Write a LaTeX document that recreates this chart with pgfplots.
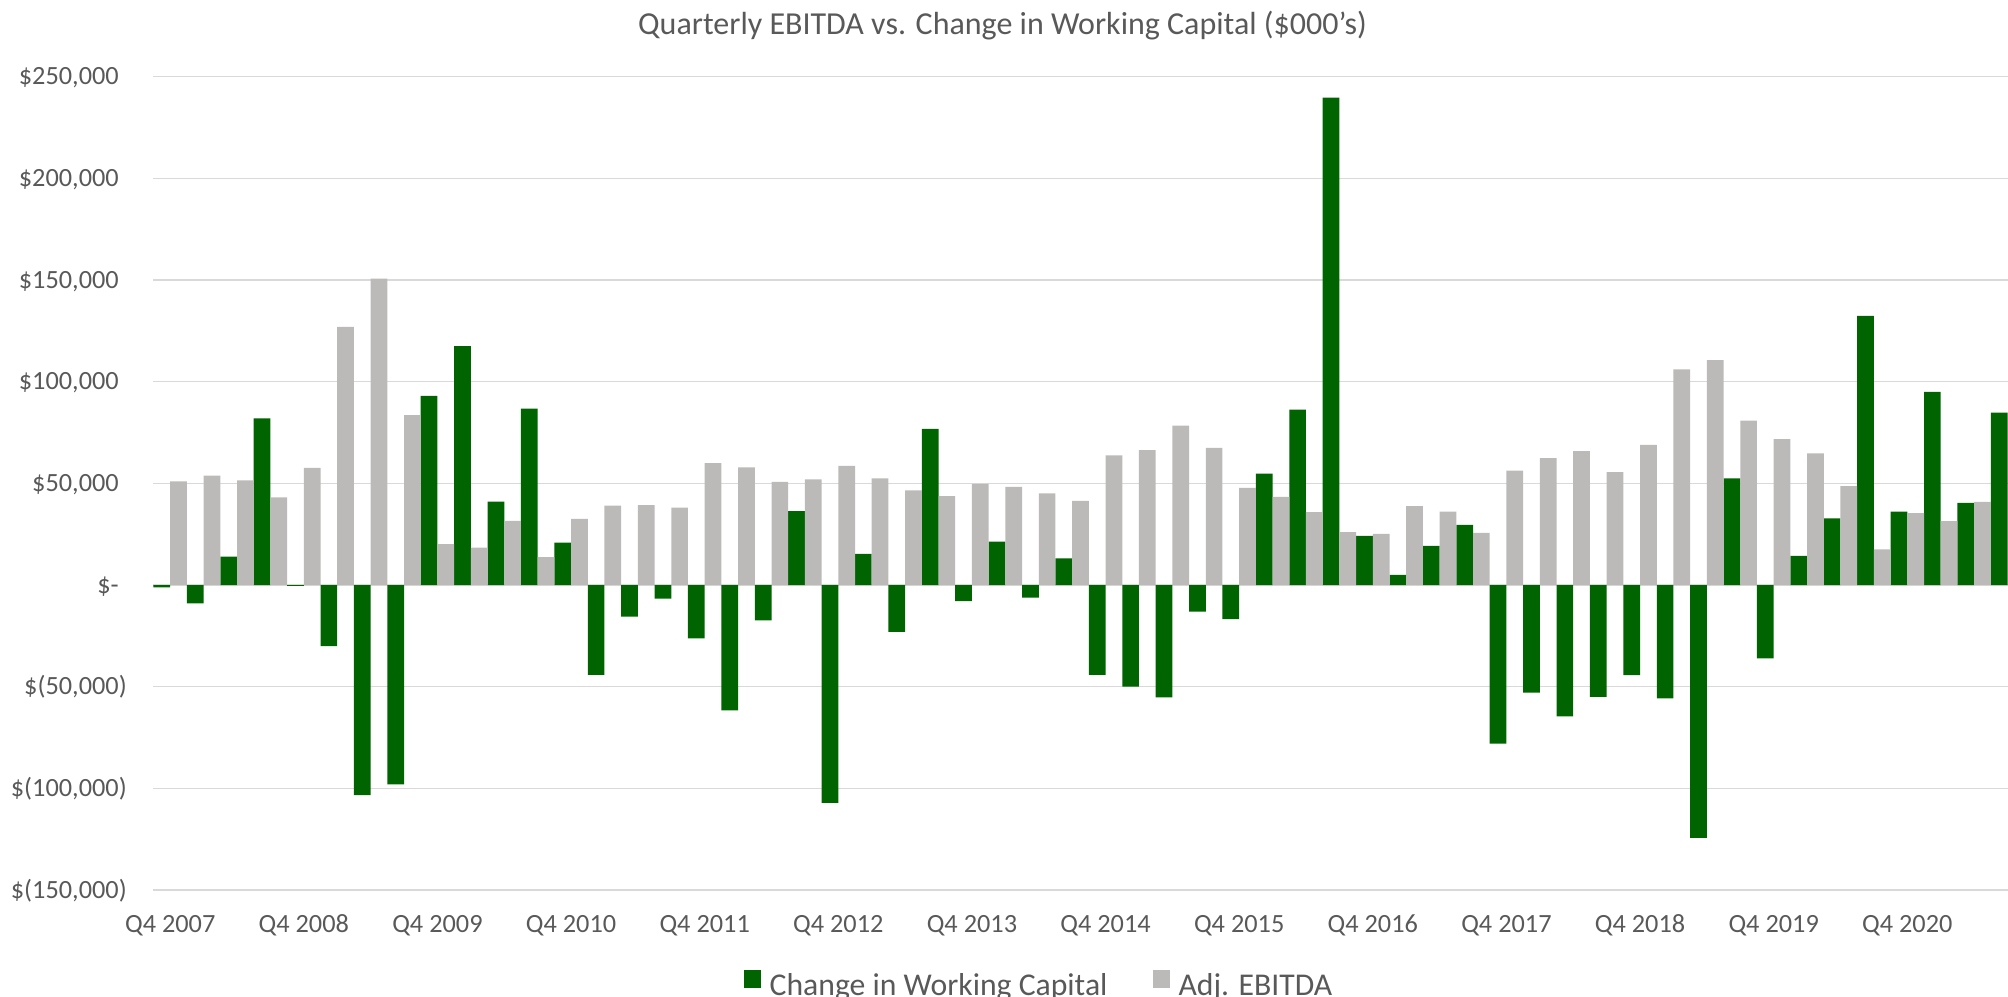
\documentclass[border=0pt]{standalone}
\usepackage{fontspec}
\setmainfont{Carlito}
\usepackage{pgfplots}
\pgfplotsset{compat=1.18}
\usepackage{pgfplotstable}

\definecolor{wcgreen}{RGB}{0,100,0}
\definecolor{ebgray}{RGB}{187,186,184}
\definecolor{txtgray}{RGB}{89,89,89}
\definecolor{gridgray}{RGB}{217,217,217}

% quarters from Q4 2007 (q=0) to Q3 2021 (q=55), values in $000's
\pgfplotstableread{
q   wc       ebitda
0   -1200    51000
1   -9000    53800
2   14000    51500
3   82000    43100
4   -400     57600
5   -30000   127000
6   -103300  150700
7   -98000   83500
8   93000    20100
9   117500   18400
10  41000    31600
11  86700    13700
12  20800    32500
13  -44200   39000
14  -15600   39300
15  -6700    38000
16  -26300   60000
17  -61700   57800
18  -17400   50700
19  36400    52000
20  -107200  58600
21  15300    52400
22  -23000   46500
23  76800    43700
24  -7900    49700
25  21300    48300
26  -6200    45100
27  13100    41400
28  -44200   63800
29  -50000   66300
30  -55300   78400
31  -13100   67400
32  -16800   47800
33  54800    43400
34  86300    35900
35  239700   26000
36  24200    25100
37  5000     38800
38  19200    36100
39  29600    25600
40  -78000   56300
41  -52900   62400
42  -64600   65900
43  -55000   55500
44  -44300   68900
45  -55700   106000
46  -124400  110600
47  52500    80900
48  -36100   71700
49  14300    64700
50  32800    48600
51  132400   17500
52  36100    35400
53  95000    31400
54  40400    40900
55  84800    nan
}\quarters

\begin{document}
\begin{tikzpicture}
\useasboundingbox (-76.75bp,-53.5bp) rectangle (927.25bp,445bp);
\begin{axis}[
  at={(0,0)}, anchor=south west,
  scale only axis, width=927bp, height=406.65bp,
  xmin=-0.5, xmax=55, ymin=-150000, ymax=250000,
  ybar, bar width=0.5,
  axis line style={draw=none},
  major tick length=0pt,
  scaled y ticks=false,
  ytick={-150000,-100000,-50000,0,50000,100000,150000,200000,250000},
  yticklabels={{\$(150,000)},{\$(100,000)},{\$(50,000)},{\$-\phantom{)}},
    {\$50,000\phantom{)}},{\$100,000\phantom{)}},{\$150,000\phantom{)}},
    {\$200,000\phantom{)}},{\$250,000\phantom{)}}},
  ymajorgrids, grid style={gridgray, line width=0.7bp},
  xtick={0,4,...,52},
  xticklabels={Q4 2007,Q4 2008,Q4 2009,Q4 2010,Q4 2011,Q4 2012,Q4 2013,
    Q4 2014,Q4 2015,Q4 2016,Q4 2017,Q4 2018,Q4 2019,Q4 2020},
  tick label style={font=\fontsize{13.15bp}{15bp}\selectfont, text=txtgray},
  yticklabel style={anchor=base east, inner sep=0pt, xshift=-13.2bp, yshift=-4.15bp},
  xticklabel style={anchor=base, inner sep=0pt, yshift=-21.35bp},
  legend columns=2,
  legend style={at={(0.3181,-0.1161)}, anchor=west, draw=none, fill=none,
    inner sep=0pt, nodes={inner sep=0pt},
    font=\fontsize{15.85bp}{18bp}\selectfont, text=txtgray,
    /tikz/column sep=4.15bp,
    /tikz/every even column/.append style={column sep=22.5bp}},
  legend image code/.code={\fill[#1] (0bp,-0.6bp) rectangle (8.85bp,8.25bp);},
]
\addplot[fill=wcgreen, draw=none, bar shift=-0.25] table[x=q, y=wc] {\quarters};
\addlegendentry{Change in Working Capital}
\addplot[fill=ebgray, draw=none, bar shift=0.25] table[x=q, y=ebitda] {\quarters};
\addlegendentry{Adj. EBITDA}
\end{axis}
\node[anchor=base, text=txtgray, font=\fontsize{16bp}{18bp}\selectfont]
  at (424.5bp,427.85bp) {Quarterly EBITDA vs. Change in Working Capital (\$000’s)};
\end{tikzpicture}
\end{document}
